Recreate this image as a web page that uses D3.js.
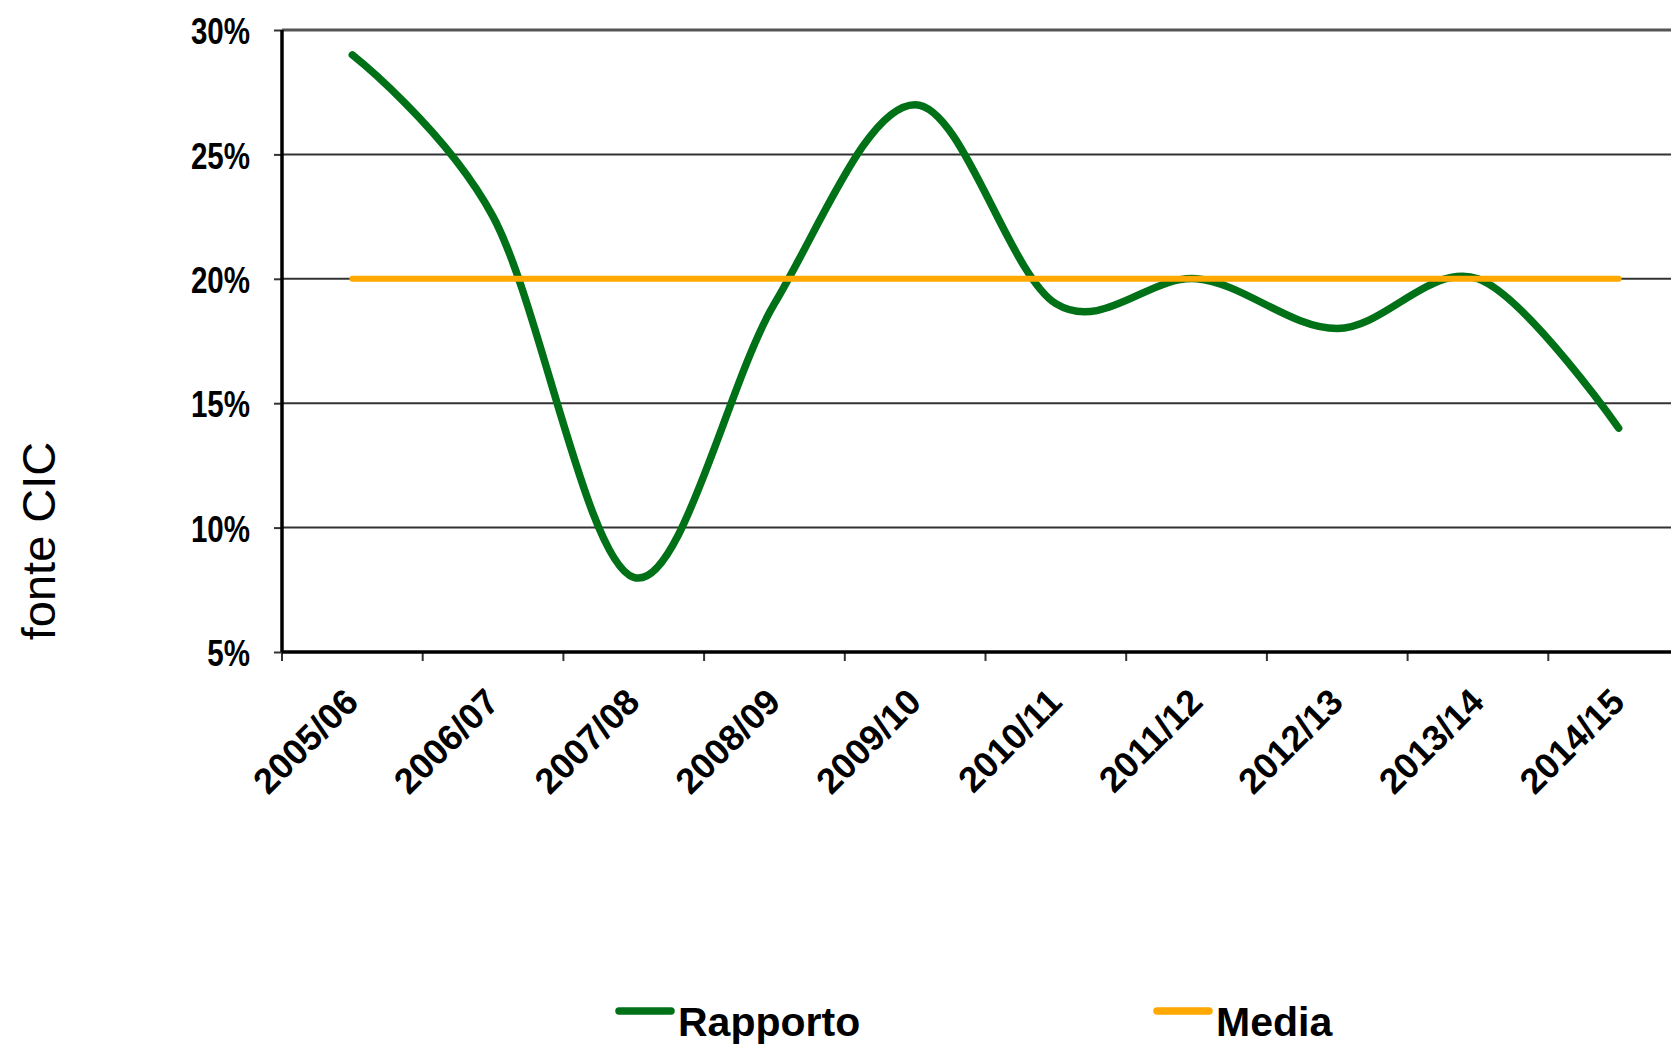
<!DOCTYPE html>
<html>
<head>
<meta charset="utf-8">
<title>Rapporto - fonte CIC</title>
<script src="https://d3js.org/d3.v7.min.js"></script>
<style>
  body { margin: 0; padding: 0; background: #fff; }
  text { font-family: "Liberation Sans", Arial, sans-serif; }
  .tick-label { font-weight: bold; font-size: 36px; fill: #000; }
</style>
</head>
<body>
<div id="chart"></div>
<script>
// data
var categories = ["2005/06", "2006/07", "2007/08", "2008/09", "2009/10",
                  "2010/11", "2011/12", "2012/13", "2013/14", "2014/15"];
var rapporto = [29, 22.5, 8, 19, 27, 19, 20, 18, 20, 14];
var media = [20, 20, 20, 20, 20, 20, 20, 20, 20, 20];
var yTicks = [5, 10, 15, 20, 25, 30];
var seriesNames = ["Rapporto", "Media"];

var width = 1671, height = 1045;
var plotLeft = 282, plotTop = 30, plotBottom = 652, plotRight = 1689;

var svg = d3.select("#chart").append("svg")
    .attr("width", width)
    .attr("height", height);

var x = d3.scaleBand()
    .domain(categories)
    .range([plotLeft, plotRight]);
var y = d3.scaleLinear()
    .domain([5, 30])
    .range([plotBottom, plotTop]);
var cx = function(d) { return x(d) + x.bandwidth() / 2; };

// gridlines
svg.append("g")
  .selectAll("line")
  .data(yTicks.filter(function(d) { return d > 5; }))
  .enter().append("line")
    .attr("x1", plotLeft).attr("x2", width)
    .attr("y1", function(d) { return y(d); })
    .attr("y2", function(d) { return y(d); })
    .attr("stroke", function(d) { return d == 30 ? "#555" : "#333"; })
    .attr("stroke-width", function(d) { return d == 30 ? 3 : 2; });

// y axis
var yAxis = svg.append("g")
    .attr("transform", "translate(" + plotLeft + ",0)")
    .call(d3.axisLeft(y).tickValues(yTicks)
      .tickFormat(function(d) { return d + "%"; })
      .tickSize(8).tickPadding(24));
yAxis.attr("font-size", null).attr("font-family", null);
yAxis.select(".domain").remove();
yAxis.selectAll(".tick line").attr("stroke", "#333").attr("stroke-width", 2);
yAxis.selectAll(".tick text")
    .attr("class", "tick-label")
    .attr("dy", "0.38em")
    .each(function() {
      var w = this.getComputedTextLength();
      d3.select(this).attr("textLength", w * 0.82).attr("lengthAdjust", "spacingAndGlyphs");
    });

// x axis: ticks between categories
var edges = categories.map(function(c) { return x(c); });
svg.append("g")
  .selectAll("line")
  .data(edges)
  .enter().append("line")
    .attr("x1", function(d) { return d; }).attr("x2", function(d) { return d; })
    .attr("y1", plotBottom).attr("y2", plotBottom + 9)
    .attr("stroke", "#333").attr("stroke-width", 2);

svg.append("g")
  .selectAll("text")
  .data(categories)
  .enter().append("text")
    .attr("class", "tick-label")
    .attr("text-anchor", "end")
    .attr("transform", function(d) {
      return "translate(" + (cx(d) + 8) + "," + (plotBottom + 52) + ") rotate(-45)";
    })
    .text(function(d) { return d; });

// axis lines
svg.append("line")
    .attr("x1", plotLeft).attr("x2", plotLeft)
    .attr("y1", plotTop).attr("y2", plotBottom)
    .attr("stroke", "#000").attr("stroke-width", 3.5);
svg.append("line")
    .attr("x1", plotLeft).attr("x2", width)
    .attr("y1", plotBottom).attr("y2", plotBottom)
    .attr("stroke", "#000").attr("stroke-width", 3.5);

// lines
var smooth = d3.line()
    .x(function(d, i) { return cx(categories[i]); })
    .y(function(d) { return y(d); })
    .curve(d3.curveCatmullRom.alpha(0));
var straight = d3.line()
    .x(function(d, i) { return cx(categories[i]); })
    .y(function(d) { return y(d); });

svg.append("path")
    .datum(rapporto)
    .attr("d", smooth)
    .attr("fill", "none")
    .attr("stroke", "#007117")
    .attr("stroke-width", 7.5)
    .attr("stroke-linecap", "round")
    .attr("stroke-linejoin", "round");

svg.append("path")
    .datum(media)
    .attr("d", straight)
    .attr("fill", "none")
    .attr("stroke", "#ffa800")
    .attr("stroke-width", 6)
    .attr("stroke-linecap", "round");

// side note
svg.append("text")
    .attr("transform", "translate(55,541) rotate(-90)")
    .attr("text-anchor", "middle")
    .style("font-size", "47px")
    .text("fonte CIC");

// legend
var legendX = [619, 1157];
var legendColors = ["#007117", "#ffa800"];
var lg = svg.append("g").selectAll("g")
    .data(seriesNames)
    .enter().append("g")
    .attr("transform", function(d, i) { return "translate(" + legendX[i] + ",1011)"; });
lg.append("line")
    .attr("x1", 0).attr("x2", 52)
    .attr("stroke", function(d, i) { return legendColors[i]; })
    .attr("stroke-width", 7.5)
    .attr("stroke-linecap", "round");
lg.append("text")
    .attr("x", 59).attr("y", 25)
    .style("font-size", "41px")
    .style("font-weight", "bold")
    .text(function(d) { return d; });
</script>
</body>
</html>
